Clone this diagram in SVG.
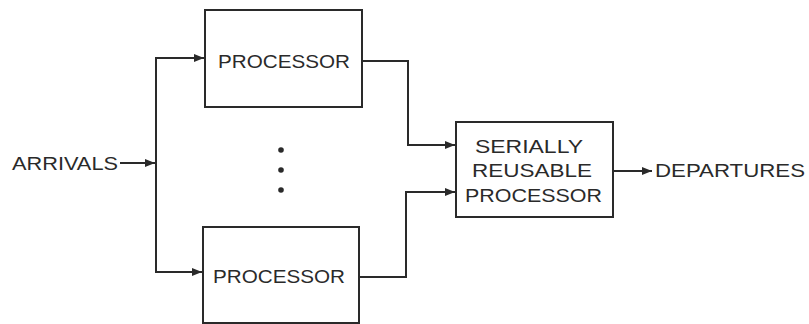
<svg xmlns="http://www.w3.org/2000/svg" width="809" height="324" viewBox="0 0 809 324">
<style>
.box{fill:none;stroke:#2a2a2a;stroke-width:2}
.ln{fill:none;stroke:#2a2a2a;stroke-width:2}
.t{font-family:"Liberation Sans",Arial,sans-serif;font-size:19px;fill:#2a2a2a}
</style>
<defs>
<marker id="ah" viewBox="0 0 10 8" refX="10" refY="4" markerWidth="10" markerHeight="8" markerUnits="userSpaceOnUse" orient="auto">
<path d="M0,0 L10,4 L0,8 Z" fill="#2a2a2a"/>
</marker>
</defs>
<rect width="809" height="324" fill="#ffffff"/>
<g id="arrivals"><text class="t" x="12" y="170" textLength="106" lengthAdjust="spacingAndGlyphs">ARRIVALS</text></g>
<g id="processor1">
<rect class="box" x="205" y="10" width="157" height="97"/>
<text class="t" x="218" y="68" textLength="132" lengthAdjust="spacingAndGlyphs">PROCESSOR</text>
</g>
<g id="dots">
<circle cx="281" cy="150" r="2.8" fill="#2a2a2a"/>
<circle cx="281" cy="170" r="2.8" fill="#2a2a2a"/>
<circle cx="281" cy="190" r="2.8" fill="#2a2a2a"/>
</g>
<g id="processor2">
<rect class="box" x="203" y="227" width="156" height="96"/>
<text class="t" x="213" y="283" textLength="132" lengthAdjust="spacingAndGlyphs">PROCESSOR</text>
</g>
<g id="serial">
<rect class="box" x="456" y="122" width="157" height="95"/>
<text class="t" x="475" y="153" textLength="108" lengthAdjust="spacingAndGlyphs">SERIALLY</text>
<text class="t" x="472" y="177" textLength="120" lengthAdjust="spacingAndGlyphs">REUSABLE</text>
<text class="t" x="465" y="202" textLength="137" lengthAdjust="spacingAndGlyphs">PROCESSOR</text>
</g>
<g id="departures"><text class="t" x="655" y="177" textLength="150" lengthAdjust="spacingAndGlyphs">DEPARTURES</text></g>
<g id="connectors">
<path class="ln" d="M120,163 H155" marker-end="url(#ah)"/>
<path class="ln" d="M156,163 V58 H204" marker-end="url(#ah)"/>
<path class="ln" d="M156,163 V272 H202" marker-end="url(#ah)"/>
<path class="ln" d="M362,61 H408 V145 H455" marker-end="url(#ah)"/>
<path class="ln" d="M359,277 H406 V192 H455" marker-end="url(#ah)"/>
<path class="ln" d="M613,171 H652" marker-end="url(#ah)"/>
</g>
</svg>
